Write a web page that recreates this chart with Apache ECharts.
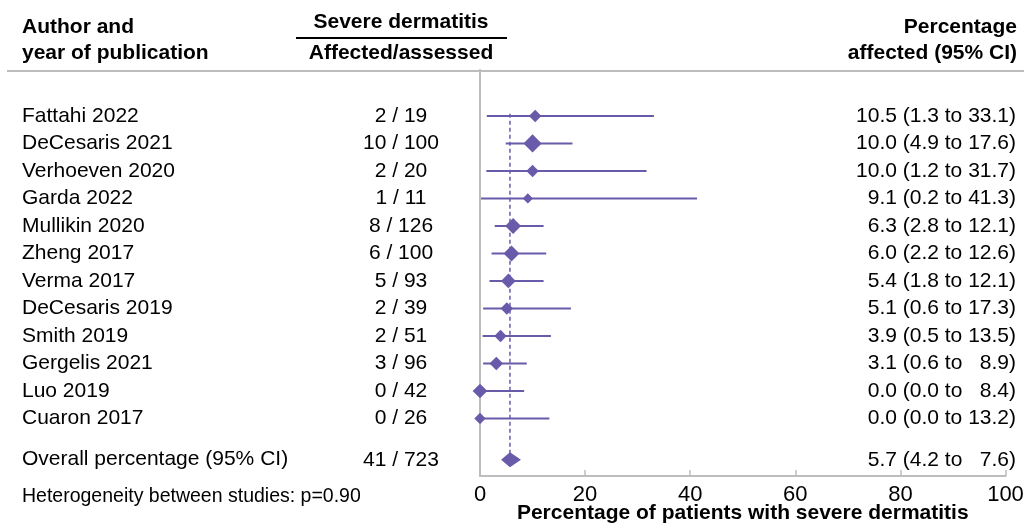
<!DOCTYPE html>
<html>
<head>
<meta charset="utf-8">
<script src="https://cdn.jsdelivr.net/npm/echarts@6/dist/echarts.min.js"></script>
<style>
html,body{margin:0;padding:0;background:#fff;}
#chart{width:1024px;height:523px;}
</style>
</head>
<body>
<div id="chart"></div>
<script>
// ---- data ----
const studies = ['Fattahi 2022','DeCesaris 2021','Verhoeven 2020','Garda 2022','Mullikin 2020','Zheng 2017','Verma 2017','DeCesaris 2019','Smith 2019','Gergelis 2021','Luo 2019','Cuaron 2017'];
const affected = [2,10,2,1,8,6,5,2,2,3,0,0];
const assessed = [19,100,20,11,126,100,93,39,51,96,42,26];
const pct = [10.5,10.0,10.0,9.1,6.3,6.0,5.4,5.1,3.9,3.1,0.0,0.0];
const lower = [1.3,4.9,1.2,0.2,2.8,2.2,1.8,0.6,0.5,0.6,0.0,0.0];
const upper = [33.1,17.6,31.7,41.3,12.1,12.6,12.1,17.3,13.5,8.9,8.4,13.2];
const weights = [6.7,14.3,6.7,4.5,10.9,10.9,9.4,6.7,6.7,8.0,9.4,5.6]; // estimated study weights (%)
const overallLabel = 'Overall percentage (95% CI)';
const overallAffected = 41;
const overallAssessed = 723;
const overallPct = 5.7;
const overallLower = 4.2;
const overallUpper = 7.6;
const heterogeneityText = 'Heterogeneity between studies: p=0.90';
const xAxisTitle = 'Percentage of patients with severe dermatitis';

// ---- styling ----
const FONT = "'Liberation Sans', Arial, Helvetica, sans-serif";
const PURPLE = '#6a5aaa';
const GRAY = '#bdbdbd';
const FS = 21;

function ciText(p, l, u) {
  return p.toFixed(1) + ' (' + l.toFixed(1) + ' to ' + (u < 10 ? '  ' : '') + u.toFixed(1) + ')';
}

const rows = studies.map((s, i) => [i, pct[i], lower[i], upper[i], weights[i]]);
const overallRow = 12.5;

const chart = echarts.init(document.getElementById('chart'), null, {renderer: 'canvas'});

function textEl(x, y, str, align, opts) {
  return {
    type: 'text',
    x: x, y: y,
    style: Object.assign({
      text: str, textAlign: align, textVerticalAlign: 'middle',
      font: FS + 'px ' + FONT, fill: '#000'
    }, opts || {})
  };
}

const option = {
  animation: false,
  backgroundColor: '#fff',
  grid: {left: 480, right: 18.5, top: 70, bottom: 47, containLabel: false, outerBoundsMode: 'none'},
  xAxis: {
    type: 'value', min: 0, max: 100, interval: 20,
    axisLine: {show: true, onZero: false, lineStyle: {color: GRAY, width: 2}},
    axisTick: {show: true, inside: true, length: 6, lineStyle: {color: GRAY, width: 1.5}},
    splitLine: {show: false},
    axisLabel: {fontSize: 22, color: '#000', fontFamily: FONT, margin: 8},
    name: xAxisTitle, nameLocation: 'middle', nameGap: 27, nameMoveOverlap: false,
    nameTextStyle: {fontSize: FS, fontWeight: 'bold', color: '#000', fontFamily: FONT}
  },
  yAxis: {
    type: 'value', inverse: true, min: -1.67, max: 13.09,
    axisLine: {show: true, onZero: false, lineStyle: {color: GRAY, width: 2}},
    axisTick: {show: false}, axisLabel: {show: false}, splitLine: {show: false}
  },
  graphic: [
    {type: 'line', shape: {x1: 7, y1: 71, x2: 1024, y2: 71}, style: {stroke: GRAY, lineWidth: 2}},
    {type: 'line', shape: {x1: 296, y1: 38, x2: 507, y2: 38}, style: {stroke: '#000', lineWidth: 2}},
    textEl(22, 27, 'Author and', 'left', {font: 'bold ' + FS + 'px ' + FONT}),
    textEl(22, 53, 'year of publication', 'left', {font: 'bold ' + FS + 'px ' + FONT}),
    textEl(401, 22, 'Severe dermatitis', 'center', {font: 'bold ' + FS + 'px ' + FONT}),
    textEl(401, 53, 'Affected/assessed', 'center', {font: 'bold ' + FS + 'px ' + FONT}),
    textEl(1017, 27, 'Percentage', 'right', {font: 'bold ' + FS + 'px ' + FONT}),
    textEl(1017, 53, 'affected (95% CI)', 'right', {font: 'bold ' + FS + 'px ' + FONT}),
    textEl(22, 497, heterogeneityText, 'left', {font: '19.5px ' + FONT})
  ],
  series: [
    {
      type: 'line',
      data: [[overallPct, -0.08], [overallPct, overallRow]],
      symbol: 'none',
      lineStyle: {color: PURPLE, width: 1.5, type: [4, 3]},
      z: 1, silent: true
    },
    {
      type: 'custom',
      clip: false,
      z: 3,
      data: rows,
      renderItem: function (params, api) {
        const i = api.value(0);
        const c = api.coord([api.value(1), i]);
        const l = api.coord([api.value(2), i]);
        const u = api.coord([api.value(3), i]);
        const half = 4.8 * Math.sqrt(api.value(4)) / 2;
        const y = c[1];
        return {
          type: 'group',
          children: [
            {type: 'line', shape: {x1: l[0], y1: y, x2: u[0], y2: y}, style: {stroke: PURPLE, lineWidth: 2}},
            {type: 'polygon', shape: {points: [[c[0] - half, y], [c[0], y - half], [c[0] + half, y], [c[0], y + half]]}, style: {fill: PURPLE}},
            textEl(22, y, studies[i], 'left'),
            textEl(401, y, affected[i] + ' / ' + assessed[i], 'center'),
            textEl(1016, y, ciText(pct[i], lower[i], upper[i]), 'right')
          ]
        };
      }
    },
    {
      type: 'custom',
      clip: false,
      z: 3,
      data: [[overallRow, overallPct, overallLower, overallUpper]],
      renderItem: function (params, api) {
        const r = api.value(0);
        const c = api.coord([api.value(1), r]);
        const l = api.coord([api.value(2), r]);
        const u = api.coord([api.value(3), r]);
        const y = c[1];
        const h = 7.5;
        return {
          type: 'group',
          children: [
            {type: 'polygon', shape: {points: [[l[0] - 1, y], [c[0], y - h], [u[0] + 1, y], [c[0], y + h]]}, style: {fill: PURPLE}},
            textEl(22, y - 1, overallLabel, 'left'),
            textEl(401, y, overallAffected + ' / ' + overallAssessed, 'center'),
            textEl(1016, y, ciText(overallPct, overallLower, overallUpper), 'right')
          ]
        };
      }
    }
  ]
};
chart.setOption(option);
</script>
</body>
</html>
